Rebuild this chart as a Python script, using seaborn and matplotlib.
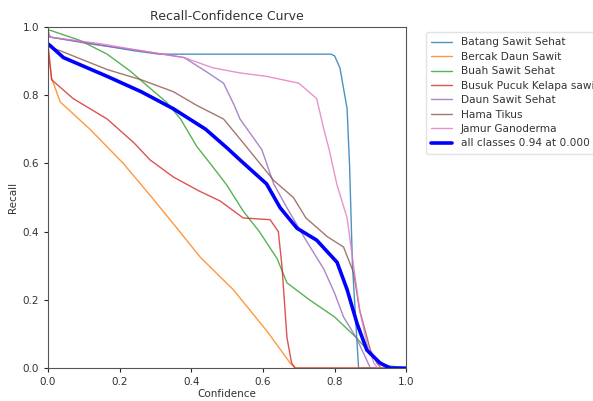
import matplotlib
matplotlib.use("Agg")
import matplotlib.pyplot as plt
import seaborn as sns
import pandas as pd

# ---- data ----
batang_x = [0.0, 0.006, 0.10, 0.24, 0.31, 0.79, 0.80, 0.815, 0.835, 0.842, 0.85, 0.867, 1.0]
batang_y = [0.98, 0.97, 0.955, 0.93, 0.92, 0.92, 0.915, 0.88, 0.76, 0.59, 0.30, 0.0, 0.0]

bercak_x = [0.0, 0.01, 0.034, 0.117, 0.21, 0.29, 0.36, 0.425, 0.517, 0.61, 0.676, 0.69, 1.0]
bercak_y = [0.93, 0.85, 0.78, 0.70, 0.60, 0.50, 0.41, 0.325, 0.23, 0.11, 0.015, 0.0, 0.0]

buah_x = [0.0, 0.006, 0.09, 0.165, 0.23, 0.285, 0.33, 0.37, 0.415, 0.46, 0.50, 0.545, 0.59, 0.64, 0.667, 0.73, 0.80, 0.86, 0.90, 0.93, 1.0]
buah_y = [0.99, 0.99, 0.96, 0.92, 0.87, 0.82, 0.78, 0.73, 0.65, 0.59, 0.535, 0.46, 0.40, 0.32, 0.25, 0.20, 0.15, 0.09, 0.043, 0.01, 0.0]

busuk_x = [0.0, 0.01, 0.07, 0.165, 0.24, 0.285, 0.35, 0.42, 0.48, 0.545, 0.62, 0.643, 0.653, 0.667, 0.68, 0.69, 1.0]
busuk_y = [0.95, 0.845, 0.79, 0.73, 0.66, 0.61, 0.56, 0.52, 0.49, 0.44, 0.435, 0.40, 0.30, 0.09, 0.015, 0.0, 0.0]

daun_x = [0.0, 0.006, 0.117, 0.26, 0.38, 0.44, 0.49, 0.52, 0.536, 0.597, 0.63, 0.667, 0.72, 0.77, 0.80, 0.825, 0.86, 0.89, 0.90, 1.0]
daun_y = [0.98, 0.97, 0.95, 0.93, 0.91, 0.87, 0.835, 0.77, 0.73, 0.64, 0.54, 0.47, 0.375, 0.29, 0.22, 0.15, 0.09, 0.023, 0.0, 0.0]

hama_x = [0.0, 0.006, 0.034, 0.165, 0.26, 0.35, 0.415, 0.49, 0.545, 0.63, 0.685, 0.72, 0.78, 0.825, 0.853, 0.87, 0.90, 0.918, 0.93, 1.0]
hama_y = [0.95, 0.94, 0.93, 0.875, 0.845, 0.81, 0.77, 0.73, 0.66, 0.55, 0.50, 0.44, 0.385, 0.355, 0.28, 0.17, 0.053, 0.015, 0.0, 0.0]

jamur_x = [0.0, 0.006, 0.15, 0.26, 0.38, 0.46, 0.536, 0.61, 0.70, 0.75, 0.77, 0.785, 0.806, 0.835, 0.853, 0.87, 0.89, 0.91, 0.92, 1.0]
jamur_y = [0.99, 0.97, 0.95, 0.93, 0.91, 0.88, 0.865, 0.855, 0.835, 0.79, 0.70, 0.64, 0.54, 0.44, 0.30, 0.17, 0.073, 0.015, 0.0, 0.0]

all_x = [0.0, 0.006, 0.043, 0.165, 0.26, 0.35, 0.44, 0.50, 0.536, 0.61, 0.648, 0.695, 0.75, 0.807, 0.835, 0.863, 0.89, 0.927, 0.955, 1.0]
all_y = [0.95, 0.945, 0.91, 0.855, 0.81, 0.76, 0.70, 0.645, 0.61, 0.54, 0.47, 0.41, 0.375, 0.31, 0.23, 0.13, 0.053, 0.015, 0.0, 0.0]

class_names = ["Batang Sawit Sehat", "Bercak Daun Sawit", "Buah Sawit Sehat",
               "Busuk Pucuk Kelapa sawit", "Daun Sawit Sehat", "Hama Tikus", "Jamur Ganoderma"]
class_x = [batang_x, bercak_x, buah_x, busuk_x, daun_x, hama_x, jamur_x]
class_y = [batang_y, bercak_y, buah_y, busuk_y, daun_y, hama_y, jamur_y]
all_label = "all classes 0.94 at 0.000"

rows = []
for name, xs, ys in zip(class_names, class_x, class_y):
    for x, y in zip(xs, ys):
        rows.append({"Confidence": x, "Recall": y, "cls": name})
df = pd.DataFrame(rows)
df_all = pd.DataFrame({"Confidence": all_x, "Recall": all_y})

sns.set_style("white")
plt.rcParams["font.family"] = ["DejaVu Sans"]

fig = plt.figure(figsize=(5.93, 4.01), dpi=100)
ax = fig.add_axes([0.081, 0.082, 0.604, 0.851])

pal = sns.color_palette("tab10", 7)
sns.lineplot(data=df, x="Confidence", y="Recall", hue="cls", palette=pal,
             units="cls", estimator=None, sort=False, linewidth=1.0, alpha=0.8, ax=ax)
sns.lineplot(data=df_all, x="Confidence", y="Recall", color="blue", linewidth=2.6,
             sort=False, estimator=None, label=all_label, ax=ax)

ax.set_xlim(0, 1)
ax.set_ylim(0, 1)
ax.set_xticks([0, 0.2, 0.4, 0.6, 0.8, 1.0])
ax.set_yticks([0, 0.2, 0.4, 0.6, 0.8, 1.0])
ax.tick_params(labelsize=7.5, length=3, width=0.8, direction="out", bottom=True, left=True,
               labelcolor="#333333")
ax.set_xlabel("Confidence", fontsize=7.5, labelpad=1, color="#333333")
ax.set_ylabel("Recall", fontsize=7.5, labelpad=3, color="#333333")
ax.set_title("Recall-Confidence Curve", fontsize=9, pad=5, color="#333333")
for s in ax.spines.values():
    s.set_color("#555555")
    s.set_linewidth(0.8)

leg = ax.legend(bbox_to_anchor=(1.04, 1.0), loc="upper left", fontsize=7.6, frameon=True,
                handlelength=2.0, borderpad=0.5, labelspacing=0.42)
leg.get_frame().set_edgecolor("#dddddd")
for t in leg.get_texts():
    t.set_color("#333333")

fig.savefig("out.png", dpi=100)
